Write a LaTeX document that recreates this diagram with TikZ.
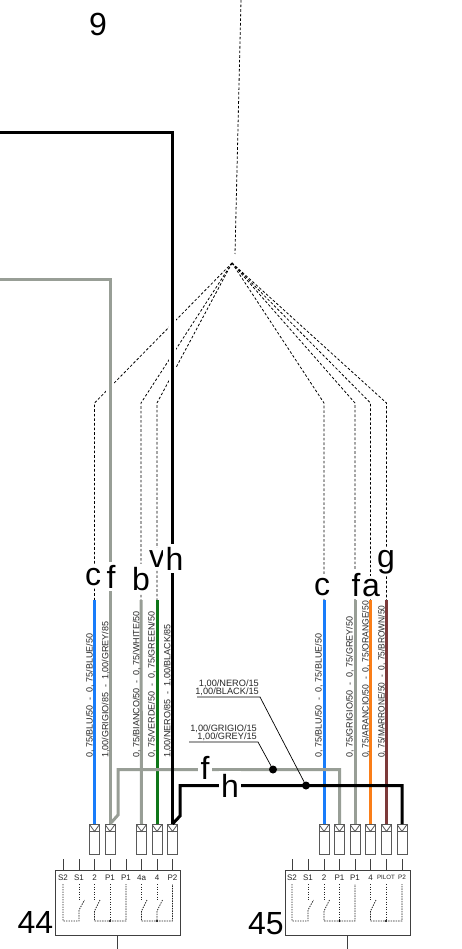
\documentclass[tikz,border=0pt]{standalone}
\usepackage{fontspec}
\usepackage{graphicx}
\setmainfont{Liberation Sans}
\newcommand{\wirelabel}[3]{\node[wiretext] (#1) at #2 {#3};}
\newcommand{\dsh}{\hspace{2.6pt} - \hspace{2.6pt}}
\tikzset{
  x=1pt,y=-1pt,
  wirecol/.style={line width=3pt,line join=miter},
  casing/.style={line width=7.5pt,white},
  dashwire/.style={line width=0.8pt,black,dash pattern=on 2.6pt off 2pt},
  dotwire/.style={line width=0.8pt,black!85,dash pattern=on 1.4pt off 1.1pt},
  biglabel/.style={font=\fontsize{32}{32}\selectfont,anchor=base,inner sep=2.5pt,fill=white,text=black},
  wiretext/.style={font=\fontsize{9}{9}\selectfont,rotate=90,anchor=west,inner sep=0pt,text=black!85},
  leadertext/.style={font=\fontsize{9.2}{8.4}\selectfont,anchor=south east,inner sep=0pt,align=right,text=black!85},
  pintext/.style={inner sep=0pt,text=black!85},
  pinline/.style={line width=0.7pt,black!75},
  blockbox/.style={draw=black!75,line width=0.8pt,minimum width=125pt,minimum height=65pt,inner sep=0pt,fill=white},
  connbox/.style={draw=black!65,line width=0.9pt,fill=white,minimum width=10pt,minimum height=30pt,inner sep=0pt,
    path picture={\draw[black!65,line width=0.8pt]
      (path picture bounding box.north west) -- ++(5pt,-7pt) -- ++(5pt,7pt)
      (path picture bounding box.north west) ++(0pt,-7pt) -- ++(10pt,0pt);}},
  ddot/.style={circle,fill=black,inner sep=0pt,minimum size=8pt},
  sdot/.style={circle,fill=black,inner sep=0pt,minimum size=2.2pt},
  bignum/.style={font=\fontsize{32}{32}\selectfont,anchor=base,inner sep=0pt},
}
\definecolor{wgrey}{RGB}{152,158,150}
\definecolor{wblue}{RGB}{24,124,250}
\definecolor{wgreen}{RGB}{14,118,24}
\definecolor{worange}{RGB}{250,126,24}
\definecolor{wbrown}{RGB}{124,58,58}
\begin{document}
\begin{tikzpicture}
\useasboundingbox (0,0) rectangle (461,949);
% named points
\coordinate (apex) at (232,263);
\coordinate (top) at (241,0);
\coordinate (topend) at (235,254);
\foreach \n/\x in {a/94.5,b/141,c/157,d/324,e/355,f/370.5,g/386.5}{
  \coordinate (k\n) at (\x,403);
  \coordinate (w\n) at (\x,600);
}
\coordinate (edgeblack) at (0,133);
\coordinate (edgegrey) at (0,280);
\coordinate (bendblack) at (172.5,133);
\coordinate (bendgrey) at (110,280);
\coordinate (caseblackA) at (172.5,290);
\coordinate (caseblackB) at (172.5,400);
\coordinate (casegreyA) at (110,300);
\coordinate (casegreyB) at (110,400);
% connectors
\foreach \n/\x in {A/94.5,B/110,C/141.5,D/157,E/172.5}{\node[connbox,anchor=north] (con\n) at (\x,824) {};}
\foreach \n/\x in {R/324,S/339.5,T/355,U/370.5,V/386.5,W/402}{\node[connbox,anchor=north] (con\n) at (\x,824) {};}
% dashed
\draw[dashwire] (top) -- (topend);
\foreach \n in {a,b,c,d,e,f,g}{\draw[dashwire] (apex) -- (k\n) -- (w\n);}
\draw[casing] (caseblackA) -- (caseblackB);
\draw[casing] (casegreyA) -- (casegreyB);
% wires
\draw[wirecol,wblue] (wa) -- (conA.north);
\draw[wirecol,wblue] (wd) -- (conR.north);
\draw[wirecol,wgrey] (wb) -- (conC.north);
\draw[wirecol,wgreen] (wc) -- (conD.north);
\draw[wirecol,wgrey] (we) -- (conT.north);
\draw[wirecol,worange] (wf) -- (conU.north);
\draw[wirecol,wbrown] (wg) -- (conV.north);
\draw[wirecol,wgrey] (edgegrey) -- (bendgrey) -- (conB.north);
\draw[wirecol,wgrey] (conB.north) -- (118,815) -- (118,769.5) -- (339.5,769.5) -- (conS.north);
\draw[wirecol,black] (edgeblack) -- (bendblack) -- (conE.north);
\draw[wirecol,black] (conE.north) -- (180,816) -- (180,785.5) -- (402,785.5) -- (conW.north);
% leaders
\node[ddot] (dotg) at (273,769.5) {};
\node[ddot] (dotb) at (306,785.5) {};
\coordinate (lg0) at (189,742);
\coordinate (lg1) at (258,742);
\coordinate (lb0) at (197,697);
\coordinate (lb1) at (260,697);
\draw[black,line width=0.7pt] (lg0) -- (lg1) -- (dotg);
\draw[black,line width=0.7pt] (lb0) -- (lb1) -- (dotb);
\node[leadertext] (tg) at (257,741) {1,00/GRIGIO/15\\1,00/GREY/15};
\node[leadertext] (tb) at (259,696) {1,00/NERO/15\\1,00/BLACK/15};
% wire labels
\wirelabel{l1}{(90,758)}{0, 75/BLU/50\dsh 0, 75/BLUE/50}
\wirelabel{l2}{(105.6,758)}{1,00/GRIGIO/85\dsh 1,00/GREY/85}
\wirelabel{l3}{(136.7,758)}{0, 75/BIANCO/50\dsh 0, 75/WHITE/50}
\wirelabel{l4}{(152,758)}{0, 75/VERDE/50\dsh 0, 75/GREEN/50}
\wirelabel{l5}{(167.7,758)}{1,00/NERO/85\dsh 1,00/BLACK/85}
\wirelabel{l6}{(319,758)}{0, 75/BLU/50\dsh 0, 75/BLUE/50}
\wirelabel{l7}{(350,758)}{0, 75/GRIGIO/50\dsh 0, 75/GREY/50}
\wirelabel{l8}{(366,758)}{\scalebox{0.96}[1]{0, 75/ARANCIO/50\dsh 0, 75/ORANGE/50}}
\wirelabel{l9}{(382,758)}{\scalebox{0.93}[1]{0, 75/MARRONE/50\dsh 0, 75/BROWN/50}}
% big labels
\node[biglabel] (n9) at (98,36) {9};
\node[biglabel] (lc1) at (93,585) {c};
\node[biglabel] (lf1) at (111,588) {f};
\node[biglabel] (lb) at (141,590) {b};
\node[biglabel] (lv) at (157,567) {v};
\node[biglabel] (lh) at (174.5,570) {h};
\node[biglabel] (lc2) at (322,595) {c};
\node[biglabel] (lf2) at (356,596) {f};
\node[biglabel] (la) at (371,596) {a};
\node[biglabel] (lg) at (386,567) {g};
\node[biglabel] (lf3) at (205,779) {f};
\node[biglabel] (lh3) at (230,797) {h};
% blocks
\foreach \n/\x in {K/117.5,L/347.5}{
  \node[blockbox,anchor=north] (blk\n) at (\x,870) {};
  \coordinate (st\n) at (\x,949);
  \draw[pinline] (blk\n.south) -- (st\n);
}
\foreach \i/\x/\t/\s in {1/63/S2/8,2/79/S1/8,3/94.5/2/8,4/110/P1/8,5/126/P1/8,6/141.5/4a/8,7/157/4/8,8/172.5/P2/8,
  9/292/S2/8,10/308/S1/8,11/324/2/8,12/339.5/P1/8,13/355/P1/8,14/370.5/4/8,15/386/PILOT/6.2,16/402/P2/6.4}{
  \coordinate (pa\i) at (\x,859);
  \coordinate (pb\i) at (\x,870);
  \draw[pinline] (pa\i) -- (pb\i);
  \node[pintext,font=\fontsize{\s}{\s}\selectfont] (pt\i) at (\x,877.5) {\t};
}
\foreach \a/\b in {63/79,292/308}{
  \draw[dotwire] (\a,884) -- (\a,921) -- (\b,921) -- (\b,910) -- (\b+5.5,900);
  \draw[dotwire] (\b,884) -- (\b,900);
}
\foreach \i/\a/\m/\c in {1/94.5/110/126,2/324/339.5/355,3/370.5/386/402}{
  \draw[dotwire] (\a,884) -- (\a,900);
  \draw[dotwire] (\a+5.5,900) -- (\a,911) -- (\a,921) -- (\c,921) -- (\c,884);
  \draw[dotwire] (\m,884) -- (\m,921);
  \node[sdot] (sd\i) at (\m,921) {};
}
\draw[dotwire] (141.5,884) -- (141.5,900);
\draw[dotwire] (147,900) -- (141.5,911) -- (141.5,921) -- (172.5,921) -- (172.5,884);
\draw[dotwire] (157,884) -- (157,900);
\draw[dotwire] (162.5,900) -- (157,911) -- (157,921);
\node[sdot] (sd4) at (157,921) {};
\node[bignum] (n44) at (35.5,933) {44};
\node[bignum] (n45) at (266,934) {45};
\end{tikzpicture}
\end{document}
